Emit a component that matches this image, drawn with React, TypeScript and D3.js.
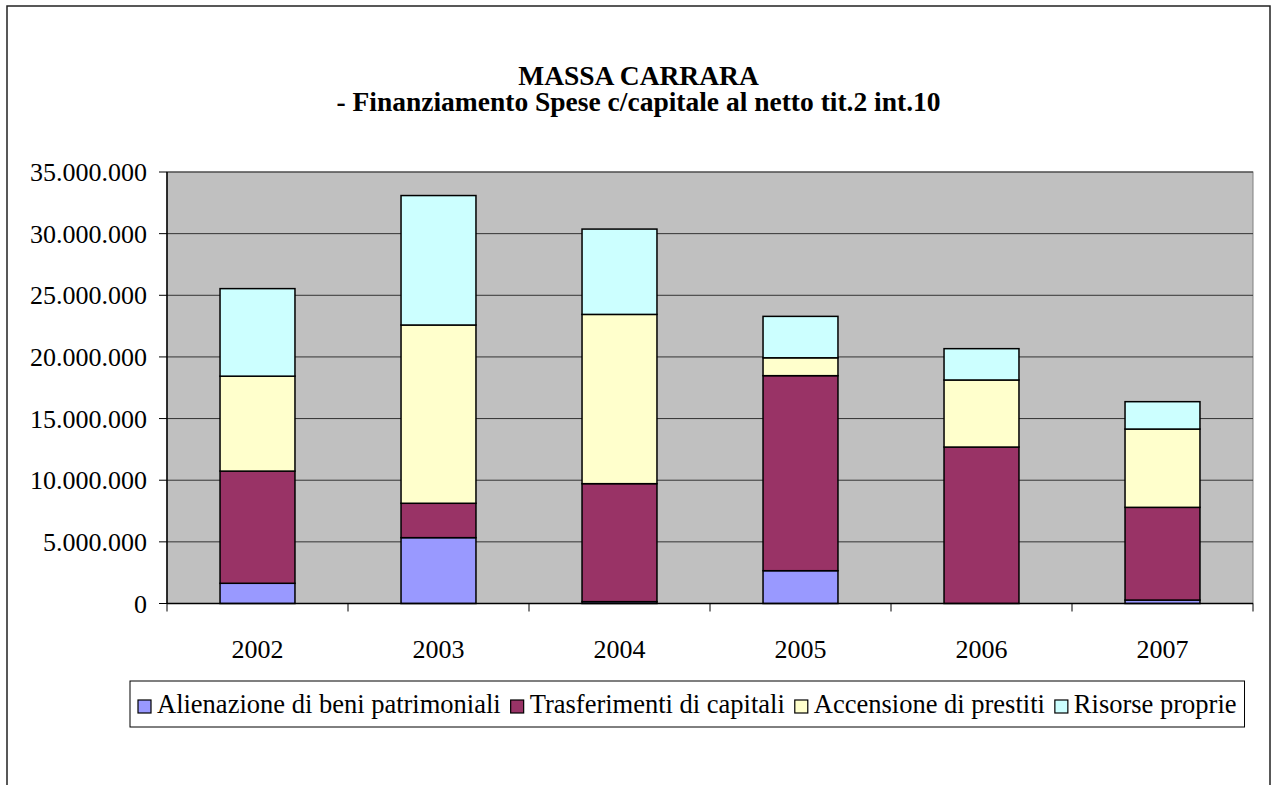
import React, { useMemo } from 'react';
import * as d3 from 'd3';

const YEARS = ['2002', '2003', '2004', '2005', '2006', '2007'];
const ALIENAZIONE = [1640000, 5340000, 150000, 2660000, 0, 280000];
const TRASFERIMENTI = [9100000, 2790000, 9570000, 15820000, 12690000, 7520000];
const ACCENSIONE = [7700000, 14460000, 13730000, 1450000, 5440000, 6350000];
const RISORSE = [7100000, 10500000, 6920000, 3360000, 2540000, 2220000];
const SERIES = [
  'Alienazione di beni patrimoniali',
  'Trasferimenti di capitali',
  'Accensione di prestiti',
  'Risorse proprie',
];
const COLORS = ['#9999FF', '#993366', '#FFFFCC', '#CCFFFF'];
const Y_TICKS = [0, 5000000, 10000000, 15000000, 20000000, 25000000, 30000000, 35000000];

const W = 1277;
const H = 785;
const FONT = "'Liberation Serif'";
const TICK_SIZE = 26;
const LEGEND_SIZE = 26.5;

const left = 167, right = 1253, top = 172, bottom = 603.5;

const fmt = d3.formatLocale({ decimal: ',', thousands: '.', grouping: [3], currency: ['€', ''] }).format(',d');

const App = () => {
  const x = d3.scaleBand<string>()
    .domain(YEARS)
    .range([left, right])
    .paddingInner(0.586)
    .paddingOuter(0.293);
  const y = d3.scaleLinear().domain([0, 35000000]).range([bottom, top]);

  const table = YEARS.map((yr, i) => ({
    year: yr,
    a: ALIENAZIONE[i],
    t: TRASFERIMENTI[i],
    c: ACCENSIONE[i],
    r: RISORSE[i],
  }));
  const layers = d3.stack<any>().keys(['a', 't', 'c', 'r'])(table);

  // legend layout, measured with a canvas; the box starts at x=130 as in the original
  const legend = useMemo(() => {
    const ctx = document.createElement('canvas').getContext('2d')!;
    ctx.font = `${LEGEND_SIZE}px 'Liberation Serif'`;
    const sq = 13, gapT = 6, gap = 10, pad = 8;
    let cx = 0;
    const items = SERIES.map((name) => {
      const w = ctx.measureText(name).width;
      const item = { name, pos: cx };
      cx += sq + gapT + w + gap;
      return item;
    });
    const total = cx - gap;
    const boxX = 130;
    return { items, start: boxX + pad, boxX, boxW: total + pad * 2 };
  }, []);

  const step = x.step();
  const bounds = d3.range(YEARS.length + 1).map((i) => left + i * step);

  return (
    <svg
      width={W}
      height={H}
      style={{ position: 'absolute', left: 0, top: 0, background: '#fff', fontFamily: FONT }}
    >
      {/* outer frame, bottom edge runs below the window */}
      <rect x={7} y={6} width={1263} height={800} fill="#fff" stroke="#222" strokeWidth={1.5} />

      <text textAnchor="middle" fontWeight="bold" fontSize={27.5} style={{ fontFamily: FONT }}>
        <tspan x={638.5} y={85}>MASSA CARRARA</tspan>
        <tspan x={638.5} y={111}>- Finanziamento Spese c/capitale al netto tit.2 int.10</tspan>
      </text>

      <rect x={left} y={top} width={right - left} height={bottom - top} fill="#C0C0C0" stroke="#808080" strokeWidth={1} />

      {Y_TICKS.slice(1).map((t) => (
        <line key={t} x1={left} x2={right} y1={y(t)} y2={y(t)} stroke="#333" strokeWidth={1} />
      ))}

      {layers.map((layer, li) => (
        <g key={li} fill={COLORS[li]}>
          {layer.filter((p) => p[1] - p[0] > 0).map((p) => (
            <rect
              key={p.data.year}
              x={x(p.data.year)}
              width={x.bandwidth()}
              y={y(p[1])}
              height={y(p[0]) - y(p[1])}
              stroke="#000"
              strokeWidth={1.5}
            />
          ))}
        </g>
      ))}

      {/* y axis */}
      <line x1={left} x2={left} y1={top} y2={bottom} stroke="#000" strokeWidth={1.5} />
      {Y_TICKS.map((t) => (
        <g key={t}>
          <line x1={left - 8} x2={left} y1={y(t)} y2={y(t)} stroke="#000" />
          <text x={left - 20} y={y(t) + 9} textAnchor="end" fontSize={TICK_SIZE} style={{ fontFamily: FONT }}>
            {fmt(t)}
          </text>
        </g>
      ))}

      {/* x axis */}
      <line x1={left} x2={right} y1={bottom} y2={bottom} stroke="#000" strokeWidth={1.5} />
      {bounds.map((b) => (
        <line key={b} x1={b} x2={b} y1={bottom} y2={bottom + 8} stroke="#000" />
      ))}
      {YEARS.map((yr) => (
        <text
          key={yr}
          x={x(yr)! + x.bandwidth() / 2}
          y={bottom + 54}
          textAnchor="middle"
          fontSize={TICK_SIZE}
          style={{ fontFamily: FONT }}
        >
          {yr}
        </text>
      ))}

      {/* legend */}
      <rect x={legend.boxX} y={681} width={legend.boxW} height={46} fill="#fff" stroke="#000" strokeWidth={1} />
      {legend.items.map((it, i) => (
        <g key={it.name} transform={`translate(${legend.start + it.pos},0)`}>
          <rect x={0} y={700} width={13} height={13} fill={COLORS[i]} stroke="#000" strokeWidth={1.2} />
          <text x={19} y={713} fontSize={LEGEND_SIZE} style={{ fontFamily: FONT }}>
            {it.name}
          </text>
        </g>
      ))}
    </svg>
  );
};

export default App;
